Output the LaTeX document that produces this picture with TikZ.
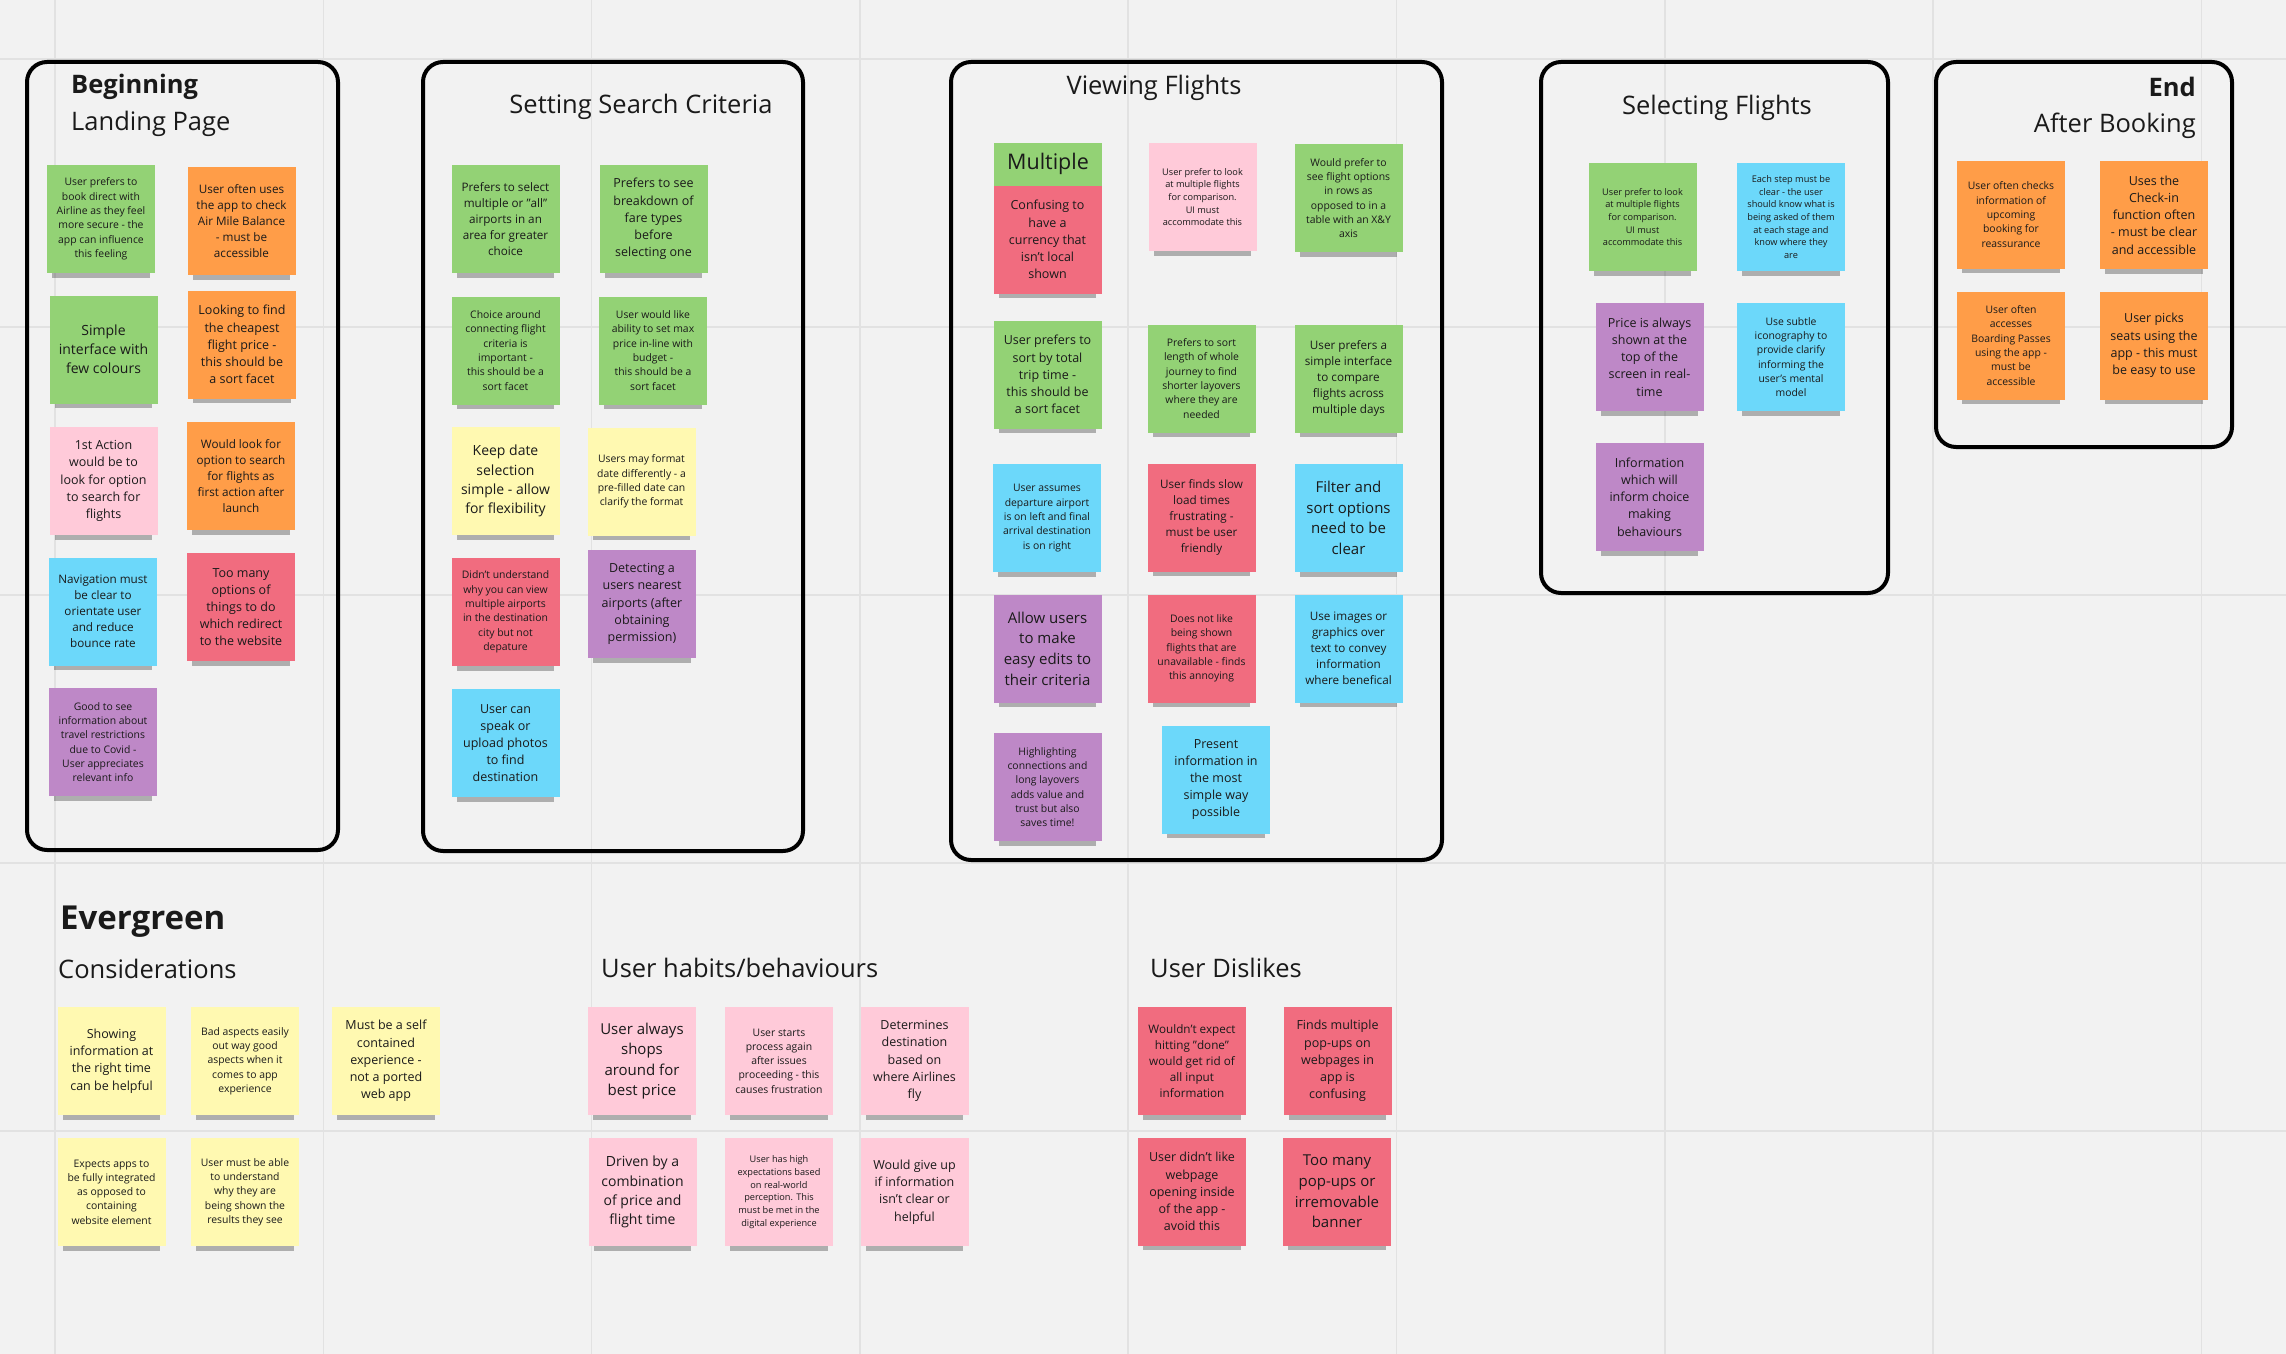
\documentclass[tikz,border=0pt]{standalone}
\usepackage{fontspec}
\setmainfont{Open Sans}
\usetikzlibrary{shadows}
\definecolor{boardBg}{HTML}{F2F2F2}
\definecolor{gridGrey}{HTML}{E2E2E2}
\definecolor{inkDark}{HTML}{1A1A1A}
\definecolor{noteGreen}{HTML}{93D275}
\definecolor{noteOrange}{HTML}{FF9D48}
\definecolor{notePink}{HTML}{FFCAD9}
\definecolor{noteBlue}{HTML}{6CD8FA}
\definecolor{noteRed}{HTML}{F16C7F}
\definecolor{notePurple}{HTML}{BE88C7}
\definecolor{noteYellow}{HTML}{FFF9B1}
\newcommand{\fsA}{\fontsize{9.2}{12.7}\selectfont}
\newcommand{\fsB}{\fontsize{10.4}{14.3}\selectfont}
\newcommand{\fsC}{\fontsize{11.7}{16.1}\selectfont}
\newcommand{\fsD}{\fontsize{12.5}{17.2}\selectfont}
\newcommand{\fsE}{\fontsize{14}{19.2}\selectfont}
\newcommand{\fsF}{\fontsize{15}{20.6}\selectfont}
\newcommand{\fsM}{\fontsize{21.5}{26}\selectfont}

\begin{document}
\begin{tikzpicture}[
    x=1pt, y=-1pt,
    note/.style={rectangle, fill=#1, minimum width=108pt, minimum height=108pt, inner sep=0pt,
                 align=center, text=inkDark,
                 drop shadow={shadow xshift=0pt, shadow yshift=-11pt, shadow scale=0.9, opacity=0.28, fill=black}},
    frame/.style={draw=black, line width=4pt, rounded corners=20pt},
    gridline/.style={draw=gridGrey, line width=1.6pt},
    title/.style={font=\fontsize{25.5}{30}\selectfont, text=inkDark, inner sep=0pt},
    heading/.style={font=\fontsize{25.5}{30}\selectfont\bfseries, text=inkDark, inner sep=0pt}
  ]
    \useasboundingbox (0,0) rectangle (2286,1354);
    \fill[boardBg] (0,0) rectangle (2286,1354);
    \foreach \gx in {0,...,8}
      \draw[gridline] ({55+268.3*\gx},0) -- ({55+268.3*\gx},1354);
    \foreach \gy in {0,...,4}
      \draw[gridline] (0,{59+268*\gy}) -- (2286,{59+268*\gy});

    \draw[frame] (27,62) rectangle (338,850);
    \draw[frame] (423,62) rectangle (803,851);
    \draw[frame] (951,62) rectangle (1442,860);
    \draw[frame] (1541,62) rectangle (1888,593);
    \draw[frame] (1936,62) rectangle (2232,447);

    \node[heading, anchor=base west] (tBegin) at (71,93) {Beginning};
    \node[title, anchor=base west] (tLanding) at (71,130) {Landing Page};
    \node[title, anchor=base] (tSearch) at (641,113) {Setting Search Criteria};
    \node[title, anchor=base] (tViewing) at (1154,94) {Viewing Flights};
    \node[title, anchor=base] (tSelecting) at (1717,114) {Selecting Flights};
    \node[heading, anchor=base east] (tEnd) at (2196,96) {End};
    \node[title, anchor=base east] (tAfter) at (2196,132) {After Booking};
    \node[heading, font=\fontsize{33}{38}\selectfont\bfseries, anchor=base west] (tEvergreen) at (60,929) {Evergreen};
    \node[title, anchor=base west] (tConsider) at (58,978) {Considerations};
    \node[title, anchor=base west] (tHabits) at (601,977) {User habits/behaviours};
    \node[title, anchor=base west] (tDislikes) at (1150,977) {User Dislikes};

    \node[note=noteGreen, font=\fsB] (b1) at (101,219) {User prefers to\\book direct with\\Airline as they feel\\more secure - the\\app can influence\\this feeling};
    \node[note=noteOrange, font=\fsC] (b2) at (241.5,221) {User often uses\\the app to check\\Air Mile Balance\\- must be\\accessible};
    \node[note=noteGreen, font=\fsE] (b3) at (103.5,349.5) {Simple\\interface with\\few colours};
    \node[note=noteOrange, font=\fsD] (b4) at (242,344.5) {Looking to find\\the cheapest\\flight price -\\this should be\\a sort facet};
    \node[note=notePink, font=\fsD] (b5) at (103.5,481) {1st Action\\would be to\\look for option\\to search for\\flights};
    \node[note=noteOrange, font=\fsC] (b6) at (241,476) {Would look for\\option to search\\for flights as\\first action after\\launch};
    \node[note=noteBlue, font=\fsC] (b7) at (103,611.5) {Navigation must\\be clear to\\orientate user\\and reduce\\bounce rate};
    \node[note=noteRed, font=\fsD] (b8) at (241,607) {Too many\\options of\\things to do\\which redirect\\to the website};
    \node[note=notePurple, font=\fsB] (b9) at (103,742) {Good to see\\information about\\travel restrictions\\due to Covid -\\User appreciates\\relevant info};

    \node[note=noteGreen, font=\fsC] (s1) at (505.5,219) {Prefers to select\\multiple or "all"\\airports in an\\area for greater\\choice};
    \node[note=noteGreen, font=\fsD] (s2) at (653.5,219) {Prefers to see\\breakdown of\\fare types\\before\\selecting one};
    \node[note=noteGreen, font=\fsB] (s3) at (505.5,350.5) {Choice around\\connecting flight\\criteria is\\important -\\this should be a\\sort facet};
    \node[note=noteGreen, font=\fsB] (s4) at (653,350.5) {User would like\\ability to set max\\price in-line with\\budget -\\this should be a\\sort facet};
    \node[note=noteYellow, font=\fsE] (s5) at (505.5,481) {Keep date\\selection\\simple - allow\\for flexibility};
    \node[note=noteYellow, font=\fsB] (s6) at (641.5,481.5) {Users may format\\date differently - a\\pre-filled date can\\clarify the format};
    \node[note=noteRed, font=\fsB] (s7) at (505.5,612) {Didn't understand\\why you can view\\multiple airports\\in the destination\\city but not\\depature};
    \node[note=notePurple, font=\fsD] (s8) at (642,604) {Detecting a\\users nearest\\airports (after\\obtaining\\permission)};
    \node[note=noteBlue, font=\fsD] (s9) at (505.5,743) {User can\\speak or\\upload photos\\to find\\destination};

    \node[note=noteGreen, font=\fsM, text depth=70pt] (v0) at (1048,196.5) {Multiple};
    \node[note=noteRed, font=\fsD] (v1) at (1047.5,239.5) {Confusing to\\have a\\currency that\\isn't local\\shown};
    \node[note=notePink, font=\fsA] (v2) at (1202.5,197) {User prefer to look\\at multiple flights\\for comparison.\\UI must\\accommodate this};
    \node[note=noteGreen, font=\fsB] (v3) at (1348.5,198) {Would prefer to\\see flight options\\in rows as\\opposed to in a\\table with an X\&Y\\axis};
    \node[note=noteGreen, font=\fsD] (v4) at (1047.5,374.5) {User prefers to\\sort by total\\trip time -\\this should be\\a sort facet};
    \node[note=noteGreen, font=\fsB] (v5) at (1201.5,378.5) {Prefers to sort\\length of whole\\journey to find\\shorter layovers\\where they are\\needed};
    \node[note=noteGreen, font=\fsC] (v6) at (1348.5,378.5) {User prefers a\\simple interface\\to compare\\flights across\\multiple days};
    \node[note=noteBlue, font=\fsB] (v7) at (1047,518) {User assumes\\departure airport\\is on left and final\\arrival destination\\is on right};
    \node[note=noteRed, font=\fsC] (v8) at (1201.5,517.5) {User finds slow\\load times\\frustrating -\\must be user\\friendly};
    \node[note=noteBlue, font=\fsF] (v9) at (1348.5,518) {Filter and\\sort options\\need to be\\clear};
    \node[note=notePurple, font=\fsF] (v10) at (1047.5,648.5) {Allow users\\to make\\easy edits to\\their criteria};
    \node[note=noteRed, font=\fsB] (v11) at (1201.5,648.5) {Does not like\\being shown\\flights that are\\unavailable - finds\\this annoying};
    \node[note=noteBlue, font=\fsC] (v12) at (1348.5,648.5) {Use images or\\graphics over\\text to convey\\information\\where benefical};
    \node[note=notePurple, font=\fsB] (v13) at (1047.5,787) {Highlighting\\connections and\\long layovers\\adds value and\\trust but also\\saves time!};
    \node[note=noteBlue, font=\fsD] (v14) at (1216,779.5) {Present\\information in\\the most\\simple way\\possible};

    \node[note=noteGreen, font=\fsA] (f1) at (1642.5,217) {User prefer to look\\at multiple flights\\for comparison.\\UI must\\accommodate this};
    \node[note=noteBlue, font=\fsA] (f2) at (1791,217) {Each step must be\\clear - the user\\should know what is\\being asked of them\\at each stage and\\know where they\\are};
    \node[note=notePurple, font=\fsD] (f3) at (1649.5,357) {Price is always\\shown at the\\top of the\\screen in real-\\time};
    \node[note=noteBlue, font=\fsB] (f4) at (1791,357) {Use subtle\\iconography to\\provide clarify\\informing the\\user's mental\\model};
    \node[note=notePurple, font=\fsD] (f5) at (1649.5,497) {Information\\which will\\inform choice\\making\\behaviours};

    \node[note=noteOrange, font=\fsB] (e1) at (2011,214.5) {User often checks\\information of\\upcoming\\booking for\\reassurance};
    \node[note=noteOrange, font=\fsD] (e2) at (2154,215) {Uses the\\Check-in\\function often\\- must be clear\\and accessible};
    \node[note=noteOrange, font=\fsB] (e3) at (2011,345.5) {User often\\accesses\\Boarding Passes\\using the app -\\must be\\accessible};
    \node[note=noteOrange, font=\fsD] (e4) at (2154,345.5) {User picks\\seats using the\\app - this must\\be easy to use};

    \node[note=noteYellow, font=\fsD] (g1) at (111.5,1061) {Showing\\information at\\the right time\\can be helpful};
    \node[note=noteYellow, font=\fsB] (g2) at (245,1061) {Bad aspects easily\\out way good\\aspects when it\\comes to app\\experience};
    \node[note=noteYellow, font=\fsD] (g3) at (386,1061) {Must be a self\\contained\\experience -\\not a ported\\web app};
    \node[note=noteYellow, font=\fsB] (g4) at (111.5,1192) {Expects apps to\\be fully integrated\\as opposed to\\containing\\website element};
    \node[note=noteYellow, font=\fsB] (g5) at (245,1192) {User must be able\\to understand\\why they are\\being shown the\\results they see};

    \node[note=notePink, font=\fsF] (h1) at (642,1061) {User always\\shops\\around for\\best price};
    \node[note=notePink, font=\fsB] (h2) at (779,1061) {User starts\\process again\\after issues\\proceeding - this\\causes frustration};
    \node[note=notePink, font=\fsD] (h3) at (914.5,1061) {Determines\\destination\\based on\\where Airlines\\fly};
    \node[note=notePink, font=\fsE] (h4) at (642.5,1192) {Driven by a\\combination\\of price and\\flight time};
    \node[note=notePink, font=\fsA] (h5) at (779,1192) {User has high\\expectations based\\on real-world\\perception. This\\must be met in the\\digital experience};
    \node[note=notePink, font=\fsD] (h6) at (914.5,1192) {Would give up\\if information\\isn't clear or\\helpful};

    \node[note=noteRed, font=\fsC] (d1) at (1192,1061) {Wouldn't expect\\hitting "done"\\would get rid of\\all input\\information};
    \node[note=noteRed, font=\fsD] (d2) at (1337.5,1061) {Finds multiple\\pop-ups on\\webpages in\\app is\\confusing};
    \node[note=noteRed, font=\fsD] (d3) at (1192,1191.5) {User didn't like\\webpage\\opening inside\\of the app -\\avoid this};
    \node[note=noteRed, font=\fsF] (d4) at (1337,1191.5) {Too many\\pop-ups or\\irremovable\\banner};
  \end{tikzpicture}
\end{document}
